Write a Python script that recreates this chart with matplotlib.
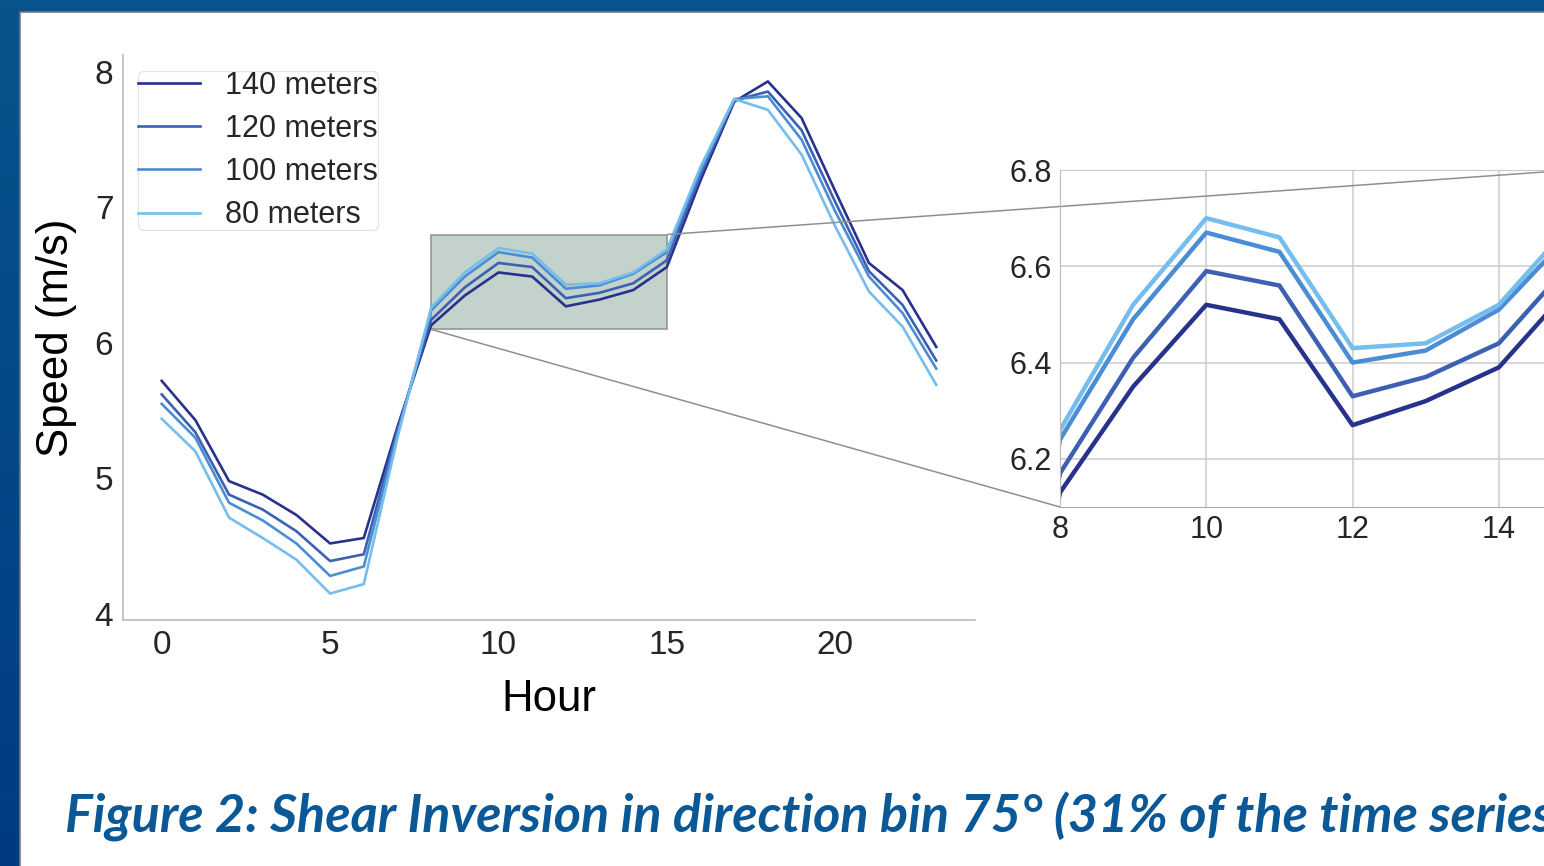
import numpy as np
import matplotlib; matplotlib.use("Agg")
import matplotlib.pyplot as plt
from matplotlib.colors import LinearSegmentedColormap
from matplotlib.patches import Rectangle
from mpl_toolkits.axes_grid1.inset_locator import mark_inset

plt.rcParams["font.family"] = ["Liberation Sans", "DejaVu Sans"]

hours = list(range(24))
heights = ["140 meters", "120 meters", "100 meters", "80 meters"]
speed_140 = [5.72, 5.43, 4.98, 4.88, 4.73, 4.52, 4.56, 5.38, 6.13, 6.35, 6.52, 6.49,
             6.27, 6.32, 6.39, 6.56, 7.20, 7.78, 7.93, 7.66, 7.12, 6.59, 6.39, 5.97]
speed_120 = [5.62, 5.34, 4.88, 4.77, 4.61, 4.39, 4.44, 5.36, 6.17, 6.41, 6.59, 6.56,
             6.33, 6.37, 6.44, 6.61, 7.24, 7.79, 7.855, 7.57, 7.04, 6.53, 6.28, 5.87]
speed_100 = [5.55, 5.30, 4.82, 4.69, 4.52, 4.28, 4.35, 5.33, 6.24, 6.49, 6.67, 6.63,
             6.40, 6.425, 6.51, 6.67, 7.27, 7.80, 7.82, 7.50, 6.97, 6.49, 6.22, 5.81]
speed_80 = [5.44, 5.20, 4.71, 4.56, 4.40, 4.15, 4.22, 5.30, 6.26, 6.52, 6.70, 6.66,
            6.43, 6.44, 6.52, 6.69, 7.30, 7.80, 7.72, 7.39, 6.86, 6.38, 6.12, 5.69]
series = [speed_140, speed_120, speed_100, speed_80]
colors = ["#28318c", "#3c60b2", "#4b8dd4", "#74bdec"]

caption = "Figure 2: Shear Inversion in direction bin 75° (31% of the time series)"

W, H = 1544, 866
fig = plt.figure(figsize=(W/100, H/100), dpi=100)

# slide frame: blue gradient behind a white page
bg = fig.add_axes([0, 0, 1, 1], zorder=-10)
cmap = LinearSegmentedColormap.from_list("frame", ["#07558c", "#003b82"])
bg.imshow(np.linspace(0, 1, 256).reshape(-1, 1), aspect="auto", cmap=cmap,
          extent=[0, W, H, 0])
bg.add_patch(Rectangle((20, 12), W, H, fc="white", ec="#6b7a8c", lw=1.2))
bg.set_xlim(0, W); bg.set_ylim(H, 0); bg.axis("off")

tick_col = "#262626"
ax = fig.add_axes([123/W, 1-620/H, 852/W, 565/H])
for s, c, lab in zip(series, colors, heights):
    ax.plot(hours, s, color=c, lw=1.9, label=lab)
ax.set_xlim(-1.15, 24.15); ax.set_ylim(3.955, 8.125)
ax.set_xticks([0, 5, 10, 15, 20]); ax.set_yticks([4, 5, 6, 7, 8])
ax.tick_params(length=0, labelsize=24, colors=tick_col, pad=7)
for k in ("top", "right"): ax.spines[k].set_visible(False)
for k in ("left", "bottom"):
    ax.spines[k].set_color("#bbbbbb"); ax.spines[k].set_linewidth(1.2)
ax.set_xlabel("Hour", fontsize=31.5, color="black", labelpad=13.5)
ax.set_ylabel("Speed (m/s)", fontsize=31.5, color="black", labelpad=12.5)
leg = ax.legend(loc="upper left", fontsize=22, frameon=True, fancybox=True,
                handlelength=2.03, handletextpad=0.82, labelspacing=0.43,
                borderpad=0.0, borderaxespad=0,
                bbox_to_anchor=(0.0176, 0.972))
leg.get_frame().set_edgecolor("#dddddd"); leg.get_frame().set_linewidth(0.8)
for t in leg.get_texts(): t.set_color(tick_col)

# zoomed view of the morning plateau
axins = fig.add_axes([1060/W, 1-507/H, 512/W, 337/H])
for s, c in zip(series, colors):
    axins.plot(hours, s, color=c, lw=3.2)
axins.set_xlim(8, 15); axins.set_ylim(6.1, 6.8)
axins.set_xticks([8, 10, 12, 14]); axins.set_yticks([6.2, 6.4, 6.6, 6.8])
axins.set_yticklabels(["6.2", "6.4", "6.6", "6.8"])
axins.grid(True, color="#cccccc", lw=1.1)
axins.set_axisbelow(True)
axins.tick_params(length=0, labelsize=22, colors=tick_col, pad=6)
for k in axins.spines:
    axins.spines[k].set_color("#c8c8c8")
axins.spines["bottom"].set_color("#aaaaaa")
axins.spines["left"].set_color("#bbbbbb")

mark_inset(ax, axins, loc1=1, loc2=3, fc="#c3d3cc", ec="#8f8f8f", lw=1.1)

fig.text(65/W, 1-832/H, caption, fontsize=37.5, color="#0a5896",
         family=["Lato", "DejaVu Sans"], weight="bold", style="italic",
         ha="left", va="baseline")

fig.savefig("out.png", dpi=100)
